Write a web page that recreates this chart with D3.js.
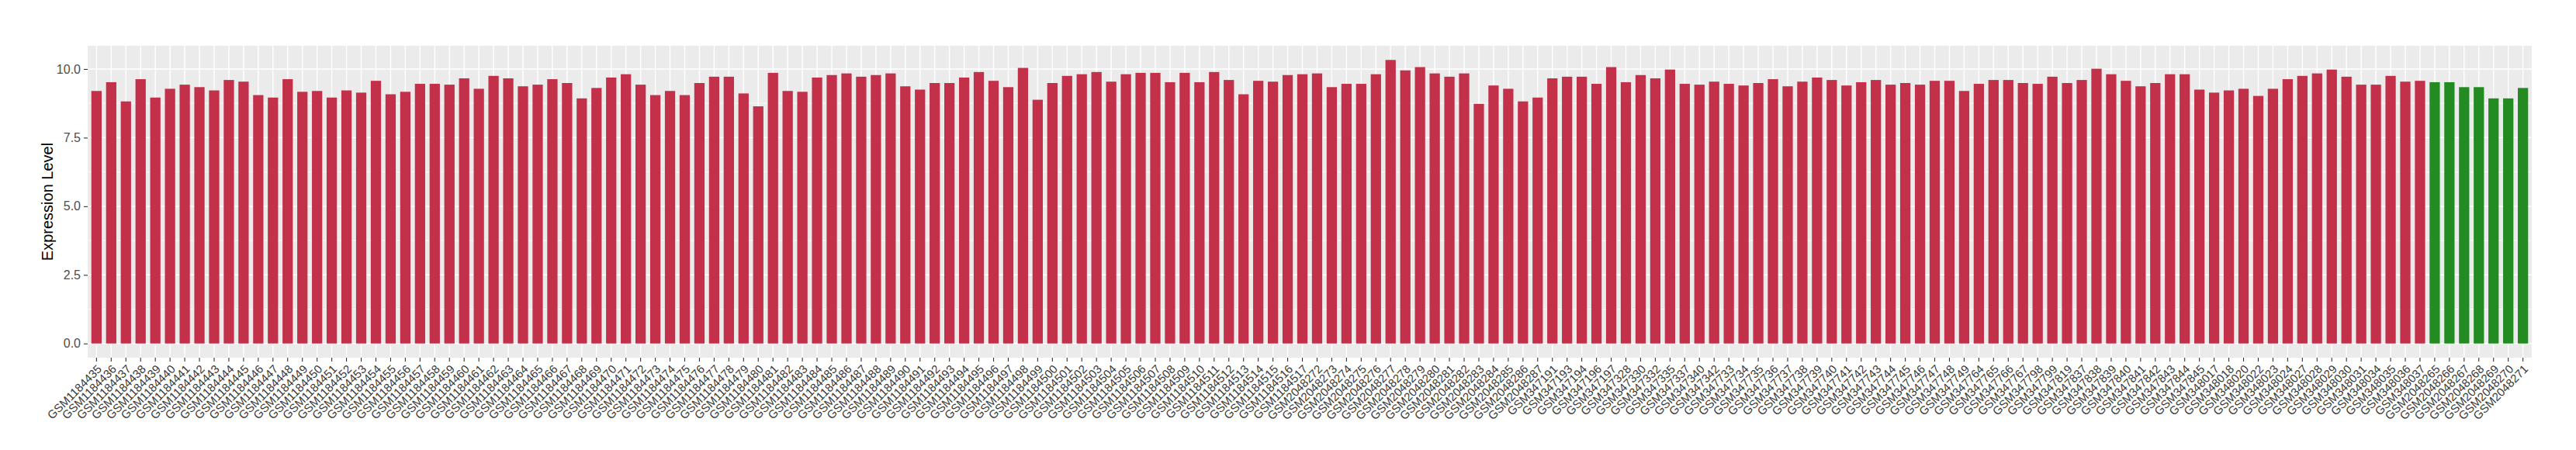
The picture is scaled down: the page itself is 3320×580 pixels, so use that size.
<!DOCTYPE html>
<html>
<head>
<meta charset="utf-8">
<script src="https://cdn.jsdelivr.net/npm/d3@7"></script>
<style>
  body { margin: 0; background: #fff; }
  text { font-family: "Liberation Sans", Arial, Helvetica, sans-serif; }
</style>
</head>
<body>
<div id="chart"></div>
<script>
// sample ids, in plot order
const samples = [
    'GSM1184435', 'GSM1184436', 'GSM1184437', 'GSM1184438', 'GSM1184439', 'GSM1184440', 'GSM1184441', 'GSM1184442', 'GSM1184443', 'GSM1184444',
    'GSM1184445', 'GSM1184446', 'GSM1184447', 'GSM1184448', 'GSM1184449', 'GSM1184450', 'GSM1184451', 'GSM1184452', 'GSM1184453', 'GSM1184454',
    'GSM1184455', 'GSM1184456', 'GSM1184457', 'GSM1184458', 'GSM1184459', 'GSM1184460', 'GSM1184461', 'GSM1184462', 'GSM1184463', 'GSM1184464',
    'GSM1184465', 'GSM1184466', 'GSM1184467', 'GSM1184468', 'GSM1184469', 'GSM1184470', 'GSM1184471', 'GSM1184472', 'GSM1184473', 'GSM1184474',
    'GSM1184475', 'GSM1184476', 'GSM1184477', 'GSM1184478', 'GSM1184479', 'GSM1184480', 'GSM1184481', 'GSM1184482', 'GSM1184483', 'GSM1184484',
    'GSM1184485', 'GSM1184486', 'GSM1184487', 'GSM1184488', 'GSM1184489', 'GSM1184490', 'GSM1184491', 'GSM1184492', 'GSM1184493', 'GSM1184494',
    'GSM1184495', 'GSM1184496', 'GSM1184497', 'GSM1184498', 'GSM1184499', 'GSM1184500', 'GSM1184501', 'GSM1184502', 'GSM1184503', 'GSM1184504',
    'GSM1184505', 'GSM1184506', 'GSM1184507', 'GSM1184508', 'GSM1184509', 'GSM1184510', 'GSM1184511', 'GSM1184512', 'GSM1184513', 'GSM1184514',
    'GSM1184515', 'GSM1184516', 'GSM1184517',
    'GSM2048272', 'GSM2048273', 'GSM2048274', 'GSM2048275', 'GSM2048276', 'GSM2048277', 'GSM2048278', 'GSM2048279', 'GSM2048280', 'GSM2048281',
    'GSM2048282', 'GSM2048283', 'GSM2048284', 'GSM2048285', 'GSM2048286', 'GSM2048287',
    'GSM347191', 'GSM347193', 'GSM347194', 'GSM347196', 'GSM347197', 'GSM347328', 'GSM347330', 'GSM347332', 'GSM347335', 'GSM347337',
    'GSM347340', 'GSM347342', 'GSM347733', 'GSM347734', 'GSM347735', 'GSM347736', 'GSM347737', 'GSM347738', 'GSM347739', 'GSM347740',
    'GSM347741', 'GSM347742', 'GSM347743', 'GSM347744', 'GSM347745', 'GSM347746', 'GSM347747', 'GSM347748', 'GSM347749', 'GSM347764',
    'GSM347765', 'GSM347766', 'GSM347767', 'GSM347798', 'GSM347799', 'GSM347819', 'GSM347837', 'GSM347838', 'GSM347839', 'GSM347840',
    'GSM347841', 'GSM347842', 'GSM347843', 'GSM347844', 'GSM347845', 'GSM348017', 'GSM348018', 'GSM348020', 'GSM348022', 'GSM348023',
    'GSM348024', 'GSM348027', 'GSM348028', 'GSM348029', 'GSM348030', 'GSM348031', 'GSM348034', 'GSM348035', 'GSM348036', 'GSM348037',
    'GSM2048265', 'GSM2048266', 'GSM2048267', 'GSM2048268', 'GSM2048269', 'GSM2048270', 'GSM2048271'
];

const values = [
    9.20, 9.52, 8.82, 9.63, 8.96, 9.28, 9.43, 9.34, 9.22, 9.60, 9.54, 9.05, 8.96, 9.63, 9.17, 9.20, 8.96, 9.22, 9.14, 9.57,
    9.08, 9.17, 9.46, 9.46, 9.43, 9.66, 9.28, 9.75, 9.66,
    9.37, 9.43, 9.63, 9.49, 8.93, 9.31, 9.69, 9.81, 9.43, 9.05, 9.20, 9.05, 9.49, 9.72, 9.72, 9.11, 8.64, 9.86, 9.20, 9.17,
    9.69, 9.78, 9.84, 9.72, 9.78, 9.84, 9.37, 9.25, 9.49,
    9.49, 9.69, 9.89, 9.57, 9.34, 10.04, 8.88, 9.49, 9.75, 9.81, 9.89, 9.54, 9.81, 9.86, 9.86, 9.52, 9.86, 9.52, 9.89, 9.60,
    9.08, 9.57, 9.54, 9.78, 9.81, 9.84, 9.34, 9.46,
    9.46, 9.81, 10.33, 9.95, 10.07, 9.84, 9.72, 9.84, 8.73, 9.40, 9.28, 8.82, 8.96, 9.66, 9.72, 9.72, 9.46, 10.07, 9.52, 9.78,
    9.66, 9.98, 9.46, 9.43, 9.54, 9.46, 9.40, 9.49, 9.63,
    9.37, 9.54, 9.69, 9.60, 9.40, 9.52, 9.60, 9.43, 9.49, 9.43, 9.57, 9.57, 9.20, 9.46, 9.60, 9.60, 9.49, 9.46, 9.72, 9.49,
    9.60, 10.01, 9.81, 9.57, 9.37, 9.49, 9.81, 9.81,
    9.25, 9.14, 9.22, 9.28, 9.02, 9.28, 9.63, 9.75, 9.84, 9.98, 9.72, 9.43, 9.43, 9.75, 9.54, 9.57,
    9.52, 9.52, 9.34, 9.34, 8.93, 8.93, 9.31
];

// samples drawn in green, everything else is red
const normalSamples = ['GSM2048265', 'GSM2048266', 'GSM2048267', 'GSM2048268', 'GSM2048269', 'GSM2048270', 'GSM2048271'];

const yTicks = [0, 2.5, 5, 7.5, 10];
const yMinor = [1.25, 3.75, 6.25, 8.75];

const width = 3320, height = 580;
const margin = { top: 59, right: 57, bottom: 119, left: 113 };
const panelRight = width - margin.right,
    panelBottom = height - margin.bottom;

const data = samples.map((s, i) => ({ sample: s, value: values[i] }));

const svg = d3.select('#chart')
    .append('svg')
    .attr('width', width)
    .attr('height', height);

const x = d3.scaleBand()
    .domain(samples)
    .range([margin.left, panelRight])
    .paddingInner(0.3)
    .paddingOuter(0.25);

const yMax = d3.max(values);
const y = d3.scaleLinear()
    .domain([-0.05 * yMax, 1.05 * yMax])
    .range([panelBottom, margin.top]);

// panel
svg.append('rect')
    .attr('x', margin.left)
    .attr('y', margin.top)
    .attr('width', panelRight - margin.left)
    .attr('height', panelBottom - margin.top)
    .attr('fill', '#EBEBEB');

// grid
svg.append('g')
    .selectAll('line')
    .data(yMinor)
    .enter()
    .append('line')
    .attr('x1', margin.left).attr('x2', panelRight)
    .attr('y1', d => y(d)).attr('y2', d => y(d))
    .attr('stroke', '#fff')
    .attr('stroke-width', 0.7);

svg.append('g')
    .selectAll('line')
    .data(yTicks)
    .enter()
    .append('line')
    .attr('x1', margin.left).attr('x2', panelRight)
    .attr('y1', d => y(d)).attr('y2', d => y(d))
    .attr('stroke', '#fff')
    .attr('stroke-width', 1.4);

svg.append('g')
    .selectAll('line')
    .data(samples)
    .enter()
    .append('line')
    .attr('x1', d => x(d) + x.bandwidth() / 2).attr('x2', d => x(d) + x.bandwidth() / 2)
    .attr('y1', margin.top).attr('y2', panelBottom)
    .attr('stroke', '#fff')
    .attr('stroke-width', 1.4);

// bars
svg.append('g')
    .selectAll('rect')
    .data(data)
    .enter()
    .append('rect')
    .attr('x', d => x(d.sample))
    .attr('width', x.bandwidth())
    .attr('y', d => y(d.value))
    .attr('height', d => y(0) - y(d.value))
    .attr('fill', d => normalSamples.includes(d.sample) ? '#228B22' : '#C3304A');

// y axis
const yAxis = svg.append('g')
    .attr('transform', `translate(${margin.left},0)`)
    .call(d3.axisLeft(y).tickValues(yTicks).tickFormat(d3.format('.1f')).tickSize(5).tickPadding(4));
yAxis.select('.domain').remove();
yAxis.selectAll('.tick line').attr('stroke', '#333333').attr('stroke-width', 1.1);
yAxis.selectAll('.tick text')
    .attr('fill', '#4D4D4D')
    .style('font-size', '16px')
    .style('font-family', '"Liberation Sans", Arial, sans-serif');

// x axis, labels turned 45 degrees and hung from their tick
const xAxis = svg.append('g')
    .attr('transform', `translate(0,${panelBottom})`)
    .call(d3.axisBottom(x).tickSize(5).tickPadding(0));
xAxis.select('.domain').remove();
xAxis.selectAll('.tick line').attr('stroke', '#333333').attr('stroke-width', 1.1);
xAxis.selectAll('.tick text')
    .attr('fill', '#3A3A3A')
    .style('font-size', '15px')
    .style('font-family', '"Liberation Sans", Arial, sans-serif')
    .attr('text-anchor', 'end')
    .attr('x', 0)
    .attr('y', 0)
    .attr('dy', '0.72em')
    .attr('transform', 'translate(0,8) rotate(-45)');

// y title
svg.append('text')
    .attr('transform', `translate(68,${(margin.top + panelBottom) / 2}) rotate(-90)`)
    .attr('text-anchor', 'middle')
    .style('font-size', '20px')
    .attr('fill', '#000')
    .text('Expression Level');
</script>
</body>
</html>
